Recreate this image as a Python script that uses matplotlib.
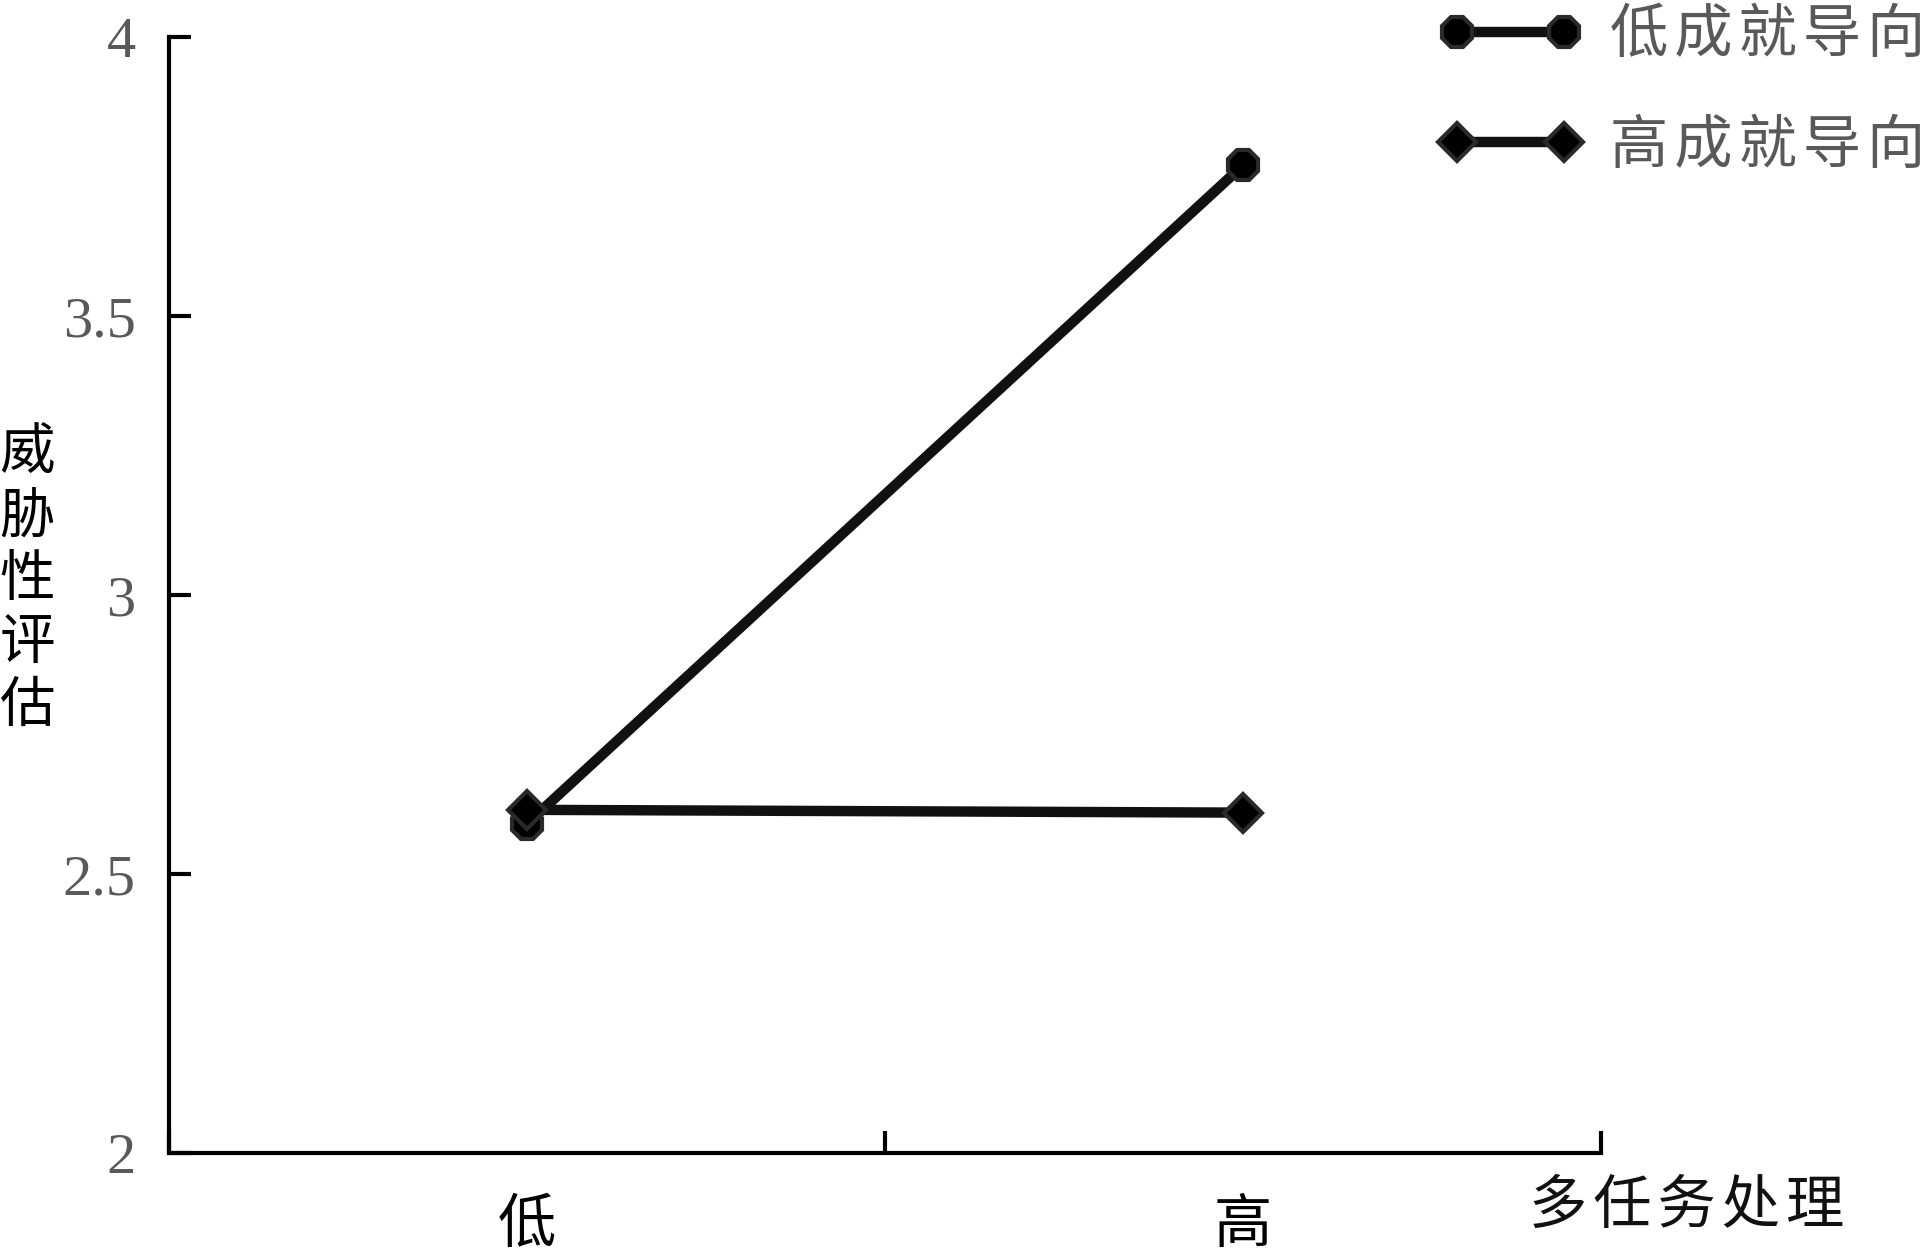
import matplotlib
matplotlib.use("Agg")
import matplotlib.pyplot as plt

# data
categories = ["低", "高"]
cat_pos = [0.5, 1.5]
low_ach = [2.59, 3.77]    # 低成就导向
high_ach = [2.615, 2.61]  # 高成就导向
series_names = ["低成就导向", "高成就导向"]
y_ticks = [2, 2.5, 3, 3.5, 4]
y_tick_labels = ["2", "2.5", "3", "3.5", "4"]

cjk = ["Noto Sans CJK SC", "DejaVu Sans"]
gray = "#595959"
hair = "\u200a"  # a bit of letter spacing like the original


def spaced(s):
    return hair.join(s)


fig = plt.figure(figsize=(19.24, 12.52), dpi=100)
ax = fig.add_axes([169 / 1924, 1 - 1153 / 1252, (1601 - 169) / 1924, (1153 - 37) / 1252])

line_kw = dict(color="#111111", lw=7.5, markeredgecolor="#2a2a2a", markeredgewidth=3,
               markerfacecolor="black", clip_on=False, solid_capstyle="butt")
ax.plot(cat_pos, low_ach, marker="8", markersize=24, label=spaced(series_names[0]), **line_kw)
ax.plot(cat_pos, high_ach, marker="D", markersize=19, label=spaced(series_names[1]), **line_kw)

ax.set_xlim(0, 2)
ax.set_ylim(2, 4)

# spines
for s in ["top", "right"]:
    ax.spines[s].set_visible(False)
for s in ["left", "bottom"]:
    ax.spines[s].set_linewidth(3)
    ax.spines[s].set_color("black")

# y ticks
ax.set_yticks(y_ticks)
ax.set_yticklabels(y_tick_labels, family="Liberation Serif", fontsize=42, color=gray)
ax.tick_params(axis="y", direction="in", length=16, width=3, pad=24)

# x ticks: major marks between categories, labels on minor positions
ax.set_xticks([0, 1, 2])
ax.set_xticklabels(["", "", ""])
ax.tick_params(axis="x", which="major", direction="in", length=16, width=3)
ax.set_xticks(cat_pos, minor=True)
ax.set_xticklabels(categories, minor=True, family=cjk, fontsize=42, color="black")
ax.tick_params(axis="x", which="minor", length=0, pad=30)

# axis titles
fig.text(1687 / 1924, 1 - 1206 / 1252, spaced("多任务处理"), family=cjk, fontsize=42,
         ha="center", va="center", color="#111111")
fig.text(27 / 1924, 1 - 580 / 1252, "威\n胁\n性\n评\n估", family=cjk, fontsize=40,
         ha="center", va="center", linespacing=1.12, color="black")

# legend
leg = fig.legend(loc="upper left", bbox_to_anchor=(1439 / 1924, 1 - 5 / 1252),
                 frameon=False, prop={"family": cjk, "size": 42},
                 handlelength=2.45, handletextpad=0.48, labelspacing=0.85,
                 borderaxespad=0, borderpad=0.0, numpoints=2)
for t in leg.get_texts():
    t.set_color(gray)

fig.savefig("out.png", dpi=100)
